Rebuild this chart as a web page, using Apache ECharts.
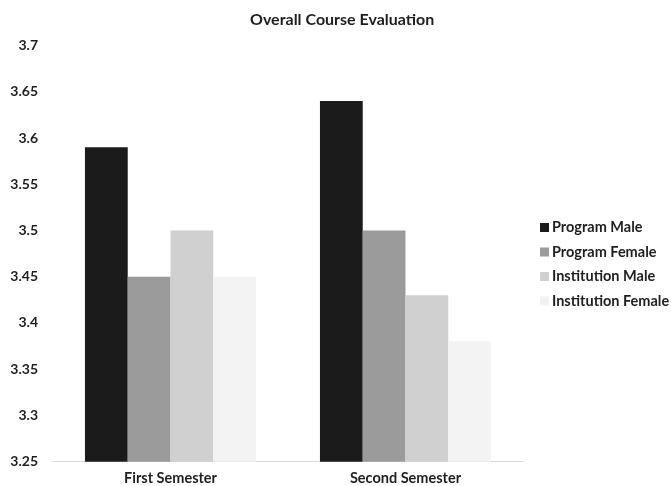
<!DOCTYPE html>
<html>
<head>
<meta charset="utf-8">
<script src="https://cdn.jsdelivr.net/npm/echarts@6/dist/echarts.min.js"></script>
<style>
  html, body { margin: 0; padding: 0; background: #fff; }
  #chart { width: 671px; height: 486px; }
</style>
</head>
<body>
<div id="chart"></div>
<script>
// Semesters on the category axis
const categories = ['First Semester', 'Second Semester'];

// Mean evaluation score per group
const programMale = [3.59, 3.64];
const programFemale = [3.45, 3.50];
const institutionMale = [3.50, 3.43];
const institutionFemale = [3.45, 3.38];

const seriesNames = ['Program Male', 'Program Female', 'Institution Male', 'Institution Female'];
const seriesValues = [programMale, programFemale, institutionMale, institutionFemale];
const seriesColors = ['#1b1b1b', '#9b9b9b', '#d0d0d0', '#f3f3f3'];

const fontFamily = 'Lato, "Open Sans", sans-serif';

const chart = echarts.init(document.getElementById('chart'), null, { renderer: 'canvas' });

chart.setOption({
  animation: false,
  backgroundColor: '#ffffff',
  title: {
    text: 'Overall Course Evaluation',
    left: 250,
    top: 12,
    padding: 0,
    textStyle: { fontFamily, fontSize: 16, fontWeight: 'bold', color: '#1e1e1e' }
  },
  legend: {
    orient: 'vertical',
    left: 535,
    top: 215,
    padding: 5,
    itemWidth: 9,
    itemHeight: 9,
    itemGap: 9.5,
    icon: 'rect',
    data: seriesNames,
    textStyle: { fontFamily, fontSize: 14.5, fontWeight: 'bold', color: '#1e1e1e', padding: [0, 0, 0, -2] }
  },
  grid: { left: 53, right: 148, top: 45.5, bottom: 24.3, containLabel: false },
  xAxis: {
    type: 'category',
    data: categories,
    axisLine: { lineStyle: { color: '#d9d9d9', width: 1 } },
    axisTick: { show: false },
    axisLabel: { fontFamily, fontSize: 14.5, fontWeight: 'bold', color: '#1e1e1e', margin: 9 }
  },
  yAxis: {
    type: 'value',
    min: 3.25,
    max: 3.7,
    interval: 0.05,
    axisLine: { show: false },
    axisTick: { show: false },
    splitLine: { show: false },
    axisLabel: {
      fontFamily, fontSize: 14, fontWeight: 'bold', color: '#1e1e1e', margin: 15,
      formatter: v => String(parseFloat(v.toFixed(2)))
    }
  },
  series: seriesNames.map((name, i) => ({
    name,
    type: 'bar',
    data: seriesValues[i],
    barGap: '0%',
    barCategoryGap: '27.2%',
    itemStyle: { color: seriesColors[i] }
  }))
});
</script>
</body>
</html>
